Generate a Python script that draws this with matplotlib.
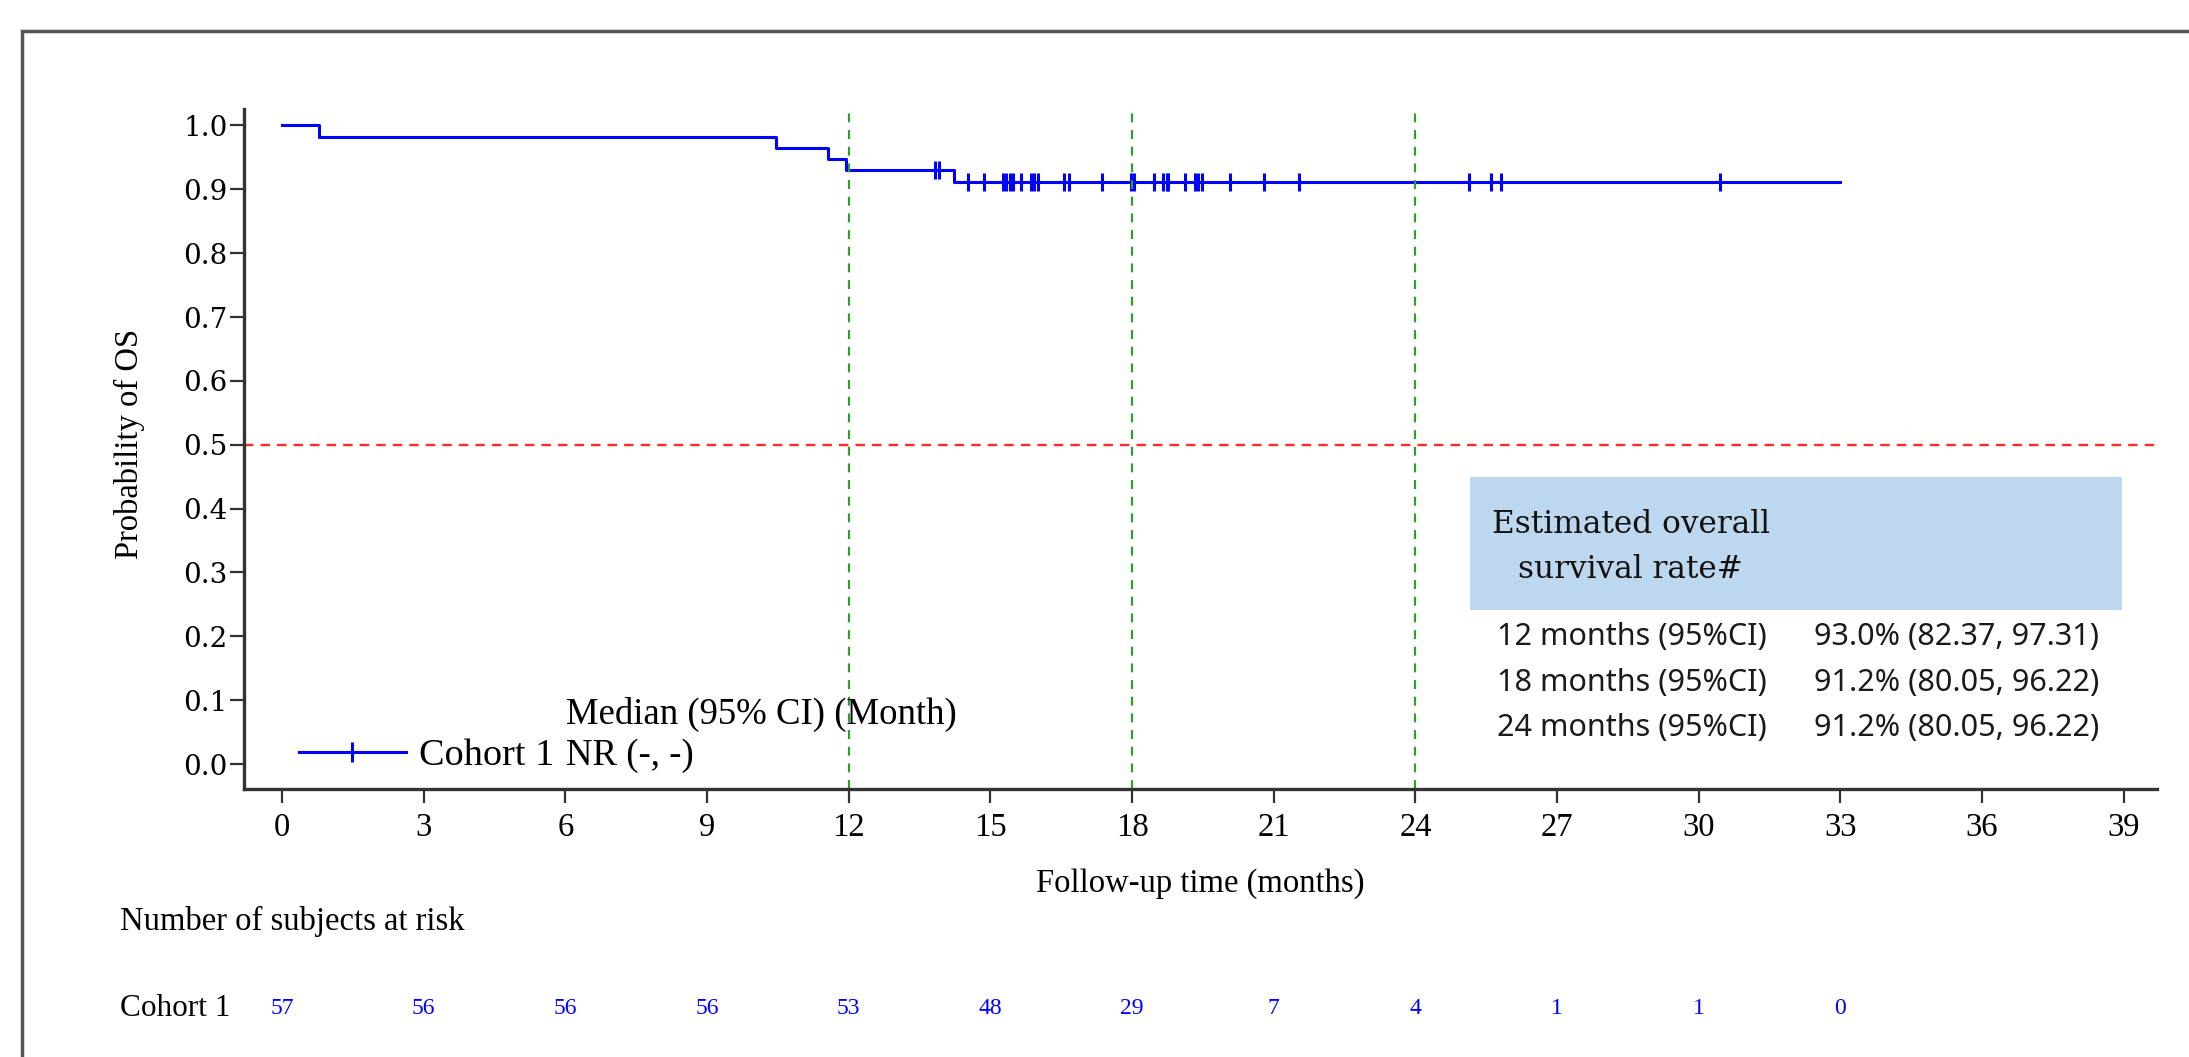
import numpy as np
import matplotlib
matplotlib.use("Agg")
import matplotlib.pyplot as plt
from matplotlib.patches import Rectangle
from matplotlib.lines import Line2D
from matplotlib.transforms import blended_transform_factory

# Kaplan-Meier step curve (months, survival probability)
event_times = [0.0, 0.78, 10.45, 11.57, 11.94, 14.22, 33.0]
surv_prob = [1.0, 0.9825, 0.9649, 0.9474, 0.9298, 0.912, 0.912]

# censored observations (months)
censor_times = [13.82, 13.92, 14.53, 14.86, 15.27, 15.34, 15.41, 15.48, 15.65,
                15.85, 15.92, 16.00, 16.55, 16.66, 17.37, 17.98, 18.04, 18.46,
                18.66, 18.73, 18.76, 19.12, 19.33, 19.40, 19.48, 20.08, 20.79,
                21.53, 25.13, 25.59, 25.81, 30.44]

# number at risk
risk_times = [0, 3, 6, 9, 12, 15, 18, 21, 24, 27, 30, 33]
at_risk = [57, 56, 56, 56, 53, 48, 29, 7, 4, 1, 1, 0]

landmarks = [12, 18, 24]
rate_labels = ["12 months (95%CI)", "18 months (95%CI)", "24 months (95%CI)"]
rate_values = ["93.0% (82.37, 97.31)", "91.2% (80.05, 96.22)", "91.2% (80.05, 96.22)"]

SERIF = "Liberation Serif"
BLUE = "#0000ff"
GREEN = "#2f9e2f"
RED = "#ff2b2b"
DARK = "#333333"

fig = plt.figure(figsize=(21.89, 10.57), dpi=100)
ax = fig.add_axes([0.1116, 0.2536, 0.8737, 0.6434])

# survival curve + censor marks
ax.step(event_times, surv_prob, where="post", color=BLUE, lw=2.2)
idx = np.searchsorted(event_times, censor_times, side="right") - 1
censor_surv = np.array(surv_prob)[idx]
ax.plot(censor_times, censor_surv, ls="none", marker="|", ms=13, mew=2.2, color=BLUE)

# reference lines
ax.axhline(0.5, color=RED, lw=1.7, dashes=(4, 3))
for m in landmarks:
    ax.axvline(m, color=GREEN, lw=1.6, dashes=(4, 3.5))

ax.set_xlim(-0.8, 39.7)
ax.set_ylim(-0.039, 1.026)
ax.set_xticks(np.arange(0, 40, 3))
ax.set_yticks(np.arange(0, 1.01, 0.1))
ax.set_yticklabels([f"{v:.1f}" for v in np.arange(0, 1.01, 0.1)],
                   fontfamily="DejaVu Serif", fontsize=20)
for lbl in ax.get_xticklabels():
    lbl.set_fontfamily(SERIF)
    lbl.set_fontsize(23.5)
ax.tick_params(axis="x", length=10, width=1.6, pad=7, color=DARK)
ax.tick_params(axis="y", length=10, width=1.6, pad=2, color=DARK)

for side in ["top", "right"]:
    ax.spines[side].set_visible(False)
for side in ["left", "bottom"]:
    ax.spines[side].set_linewidth(2.4)
    ax.spines[side].set_color(DARK)

ax.set_xlabel("Follow-up time (months)", fontfamily=SERIF, fontsize=23.5)
ax.xaxis.set_label_coords(0.5, -0.117)
ax.set_ylabel("Probability of OS", fontfamily=SERIF, fontsize=23.5)
ax.yaxis.set_label_coords(-0.052, 0.507)

# legend
handle = Line2D([], [], color=BLUE, lw=2.2, marker="|", ms=15, mew=2.2)
ax.legend([handle], ["Cohort 1"], loc="center left", bbox_to_anchor=(0.0205, 0.049),
          frameon=False, handlelength=2.8, handletextpad=0.35, numpoints=1,
          prop={"family": SERIF, "size": 27.5}, borderaxespad=0)
ax.text(0.168, 0.109, "Median (95% CI) (Month)", transform=ax.transAxes,
        fontfamily=SERIF, fontsize=26.5, va="center", ha="left")
ax.text(0.168, 0.049, "NR (-, -)", transform=ax.transAxes,
        fontfamily=SERIF, fontsize=26.5, va="center", ha="left")

# estimated survival-rate box
ax.add_patch(Rectangle((0.641, 0.263), 0.341, 0.195, transform=ax.transAxes,
                       facecolor="#bdd7ee", edgecolor="none", zorder=3))
ax.text(0.725, 0.356, "Estimated overall\nsurvival rate#", transform=ax.transAxes,
        fontfamily="DejaVu Serif", fontsize=22.5, ha="center", va="center",
        linespacing=1.6, color="#111111", zorder=4)
for y, lab, val in zip([0.224, 0.156, 0.090], rate_labels, rate_values):
    ax.text(0.655, y, lab, transform=ax.transAxes, fontfamily="Noto Sans",
            fontsize=22, ha="left", va="center", color="#1a1a1a")
    ax.text(0.821, y, val, transform=ax.transAxes, fontfamily="Noto Sans",
            fontsize=22, ha="left", va="center", color="#1a1a1a")

# number at risk table
fig.text(0.0548, 0.128, "Number of subjects at risk", fontfamily=SERIF,
         fontsize=23.5, ha="left", va="center")
fig.text(0.0548, 0.046, "Cohort 1", fontfamily=SERIF, fontsize=22.5,
         ha="left", va="center")
trans = blended_transform_factory(ax.transData, fig.transFigure)
for t, n in zip(risk_times, at_risk):
    ax.text(t, 0.046, str(n), transform=trans, fontfamily=SERIF, fontsize=17,
            color=BLUE, ha="center", va="center", clip_on=False)

# outer frame of the original panel
fig.patches.append(Rectangle((0.0101, -0.1), 1.2, 1.0706, transform=fig.transFigure,
                             facecolor="none", edgecolor="#555555", lw=2.5))

fig.savefig("out.png", dpi=100)
